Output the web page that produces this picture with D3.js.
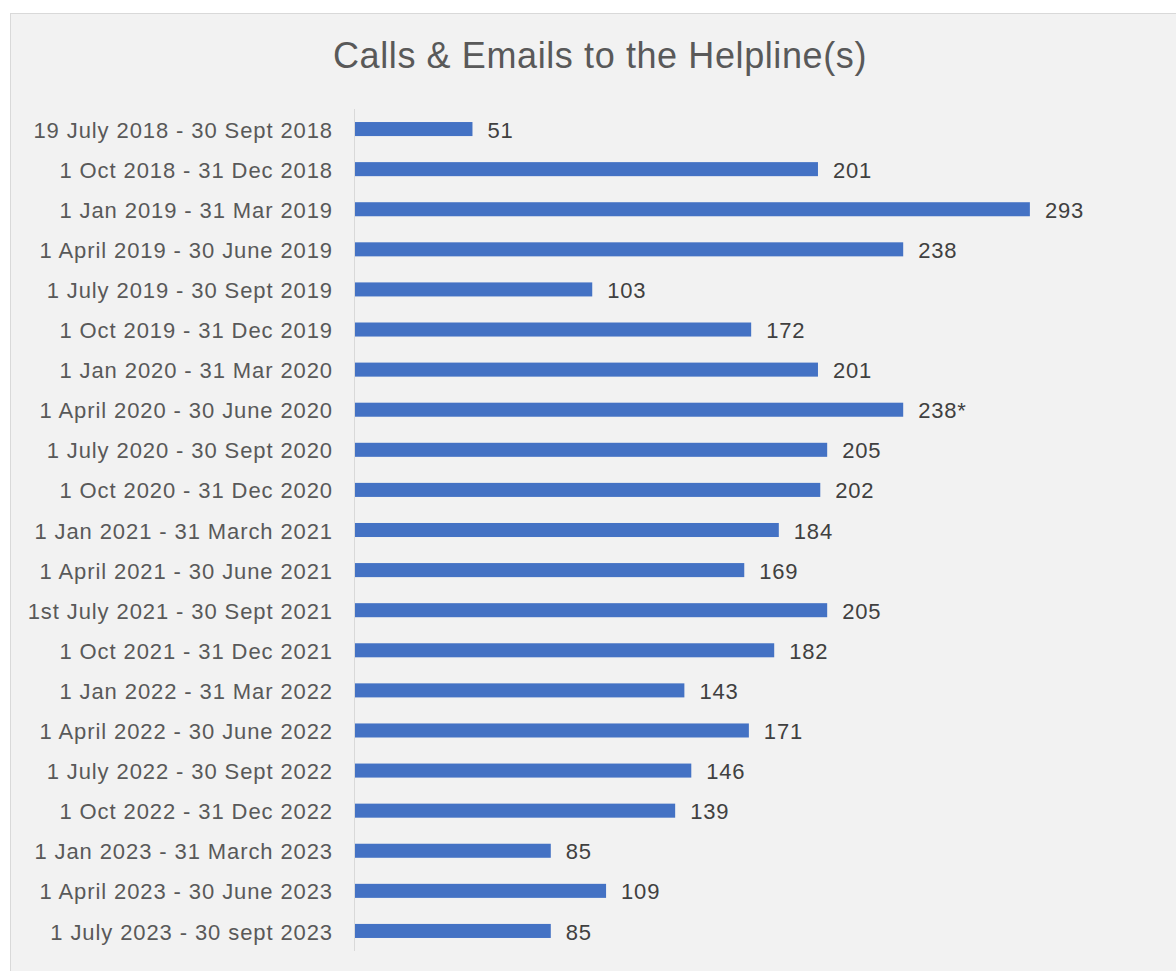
<!DOCTYPE html>
<html>
<head>
<meta charset="utf-8">
<script src="https://cdn.jsdelivr.net/npm/d3@7"></script>
<style>
  body { margin: 0; background: #fff; }
  svg { display: block; font-family: "Liberation Sans", Arial, sans-serif; }
</style>
</head>
<body>
<script>
(function() {
  const periods = [
    '19 July 2018 - 30 Sept 2018',
    '1 Oct 2018 - 31 Dec 2018',
    '1 Jan 2019 - 31 Mar 2019',
    '1 April 2019 - 30 June 2019',
    '1 July 2019 - 30 Sept 2019',
    '1 Oct 2019 - 31 Dec 2019',
    '1 Jan 2020 - 31 Mar 2020',
    '1 April 2020 - 30 June 2020',
    '1 July 2020 - 30 Sept 2020',
    '1 Oct 2020 - 31 Dec 2020',
    '1 Jan 2021 - 31 March 2021',
    '1 April 2021 - 30 June 2021',
    '1st July 2021 - 30 Sept 2021',
    '1 Oct 2021 - 31 Dec 2021',
    '1 Jan 2022 - 31 Mar 2022',
    '1 April 2022 - 30 June 2022',
    '1 July 2022 - 30 Sept 2022',
    '1 Oct 2022 - 31 Dec 2022',
    '1 Jan 2023 - 31 March 2023',
    '1 April 2023 - 30 June 2023',
    '1 July 2023 - 30 sept 2023'
  ];
  const calls = [51, 201, 293, 238, 103, 172, 201, 238, 205, 202, 184, 169, 205, 182, 143, 171, 146, 139, 85, 109, 85];
  const valueLabels = ['51', '201', '293', '238', '103', '172', '201', '238*', '205', '202', '184', '169', '205', '182', '143', '171', '146', '139', '85', '109', '85'];
  const title = 'Calls & Emails to the Helpline(s)';

  const width = 1176;
  const height = 971;
  const left = 354;
  const top = 109;
  const bottom = 951;
  const font = '"Liberation Sans", Arial, sans-serif';

  const svg = d3.select('body').append('svg').attr('width', width).attr('height', height);

  // chart area background + border
  svg.append('rect')
    .attr('x', 10.5).attr('y', 13.5)
    .attr('width', 1300).attr('height', 1100)
    .attr('fill', '#f2f2f2')
    .attr('stroke', '#d9d9d9');

  svg.append('text')
    .attr('x', 600).attr('y', 68)
    .attr('text-anchor', 'middle')
    .attr('font-family', font)
    .attr('font-size', 36)
    .attr('letter-spacing', 0.6)
    .attr('fill', '#595959')
    .text(title);

  const xScale = d3.scaleLinear()
    .domain([0, 300])
    .range([left, left + 691]);

  const yScale = d3.scaleBand()
    .domain(periods)
    .range([top, bottom])
    .paddingInner(0.65)
    .paddingOuter(0.325);

  const axis = svg.append('g')
    .attr('transform', 'translate(' + left + ',0)')
    .call(d3.axisLeft(yScale).tickSize(0).tickPadding(21));
  axis.attr('font-family', font);
  axis.select('.domain').attr('stroke', '#d9d9d9').attr('d', 'M0.5,' + top + 'V' + bottom);
  axis.selectAll('text')
    .attr('font-size', 22)
    .attr('letter-spacing', 0.9)
    .attr('dy', '0.39em')
    .attr('fill', '#595959');

  svg.append('g')
    .selectAll('rect')
    .data(calls)
    .enter()
    .append('rect')
    .attr('x', xScale(0) + 1)
    .attr('y', function(d, i) { return yScale(periods[i]); })
    .attr('width', function(d) { return xScale(d) - xScale(0); })
    .attr('height', yScale.bandwidth())
    .attr('fill', '#4472c4');

  svg.append('g')
    .selectAll('text')
    .data(calls)
    .enter()
    .append('text')
    .attr('x', function(d) { return xScale(d) + 16; })
    .attr('y', function(d, i) { return yScale(periods[i]) + yScale.bandwidth() / 2; })
    .attr('dy', '0.39em')
    .attr('font-family', font)
    .attr('font-size', 22)
    .attr('letter-spacing', 0.8)
    .attr('fill', '#404040')
    .text(function(d, i) { return valueLabels[i]; });
})();
</script>
</body>
</html>
